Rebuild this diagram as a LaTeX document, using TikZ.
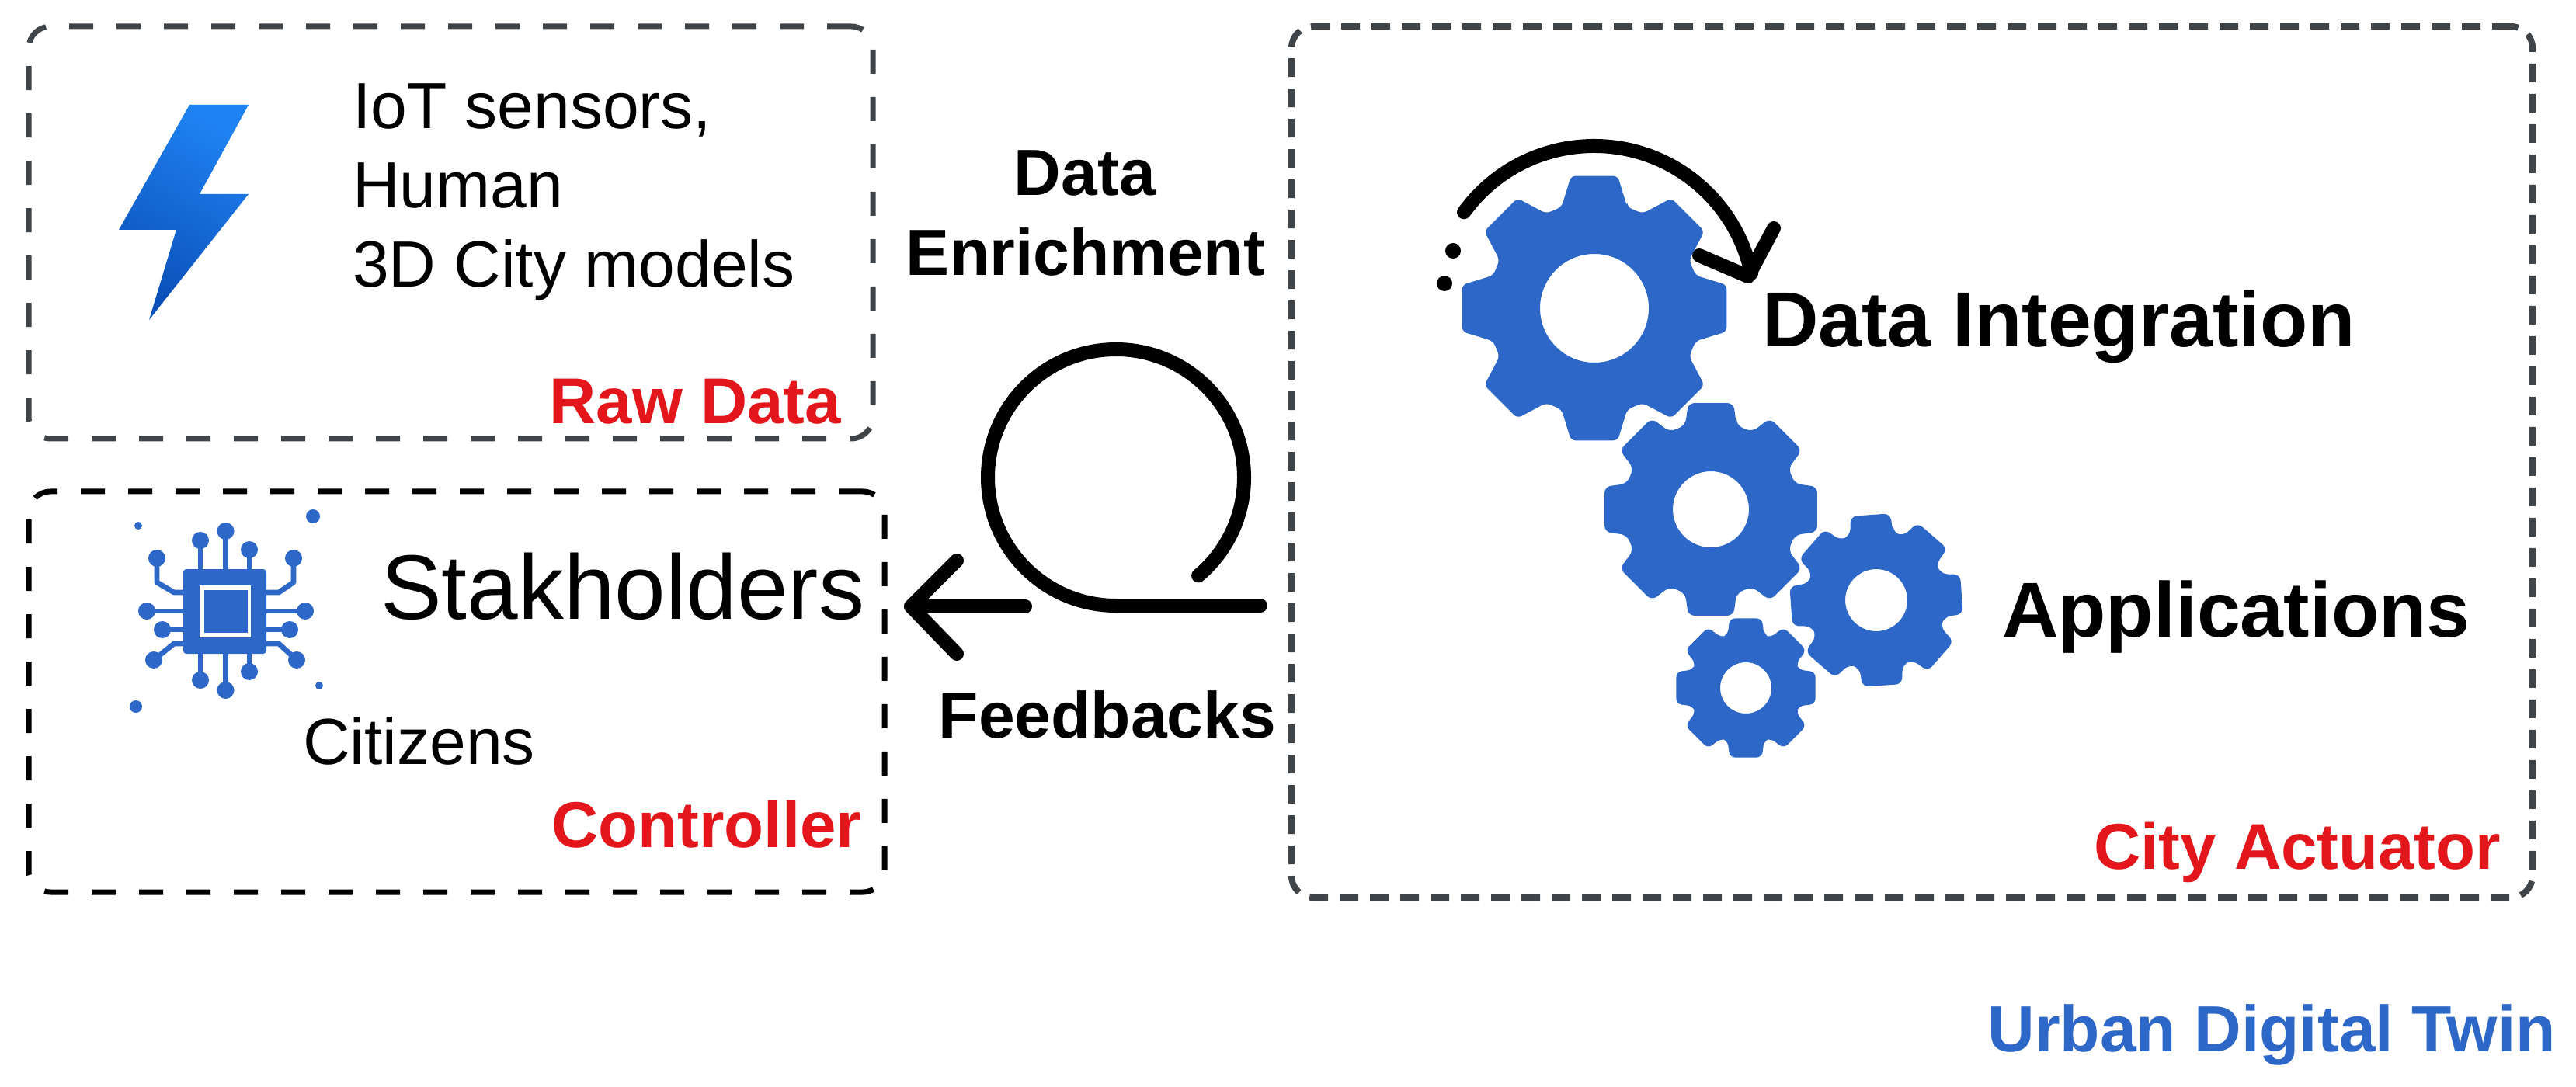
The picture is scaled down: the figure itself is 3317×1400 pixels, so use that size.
\documentclass[tikz,border=0pt]{standalone}
\usepackage{fontspec}
\setmainfont{Liberation Sans}
\definecolor{boxgrey}{HTML}{3F4449}
\definecolor{iconblue}{HTML}{2D67C8}
\definecolor{labelred}{HTML}{E3161B}
\definecolor{boltlight}{HTML}{1F82F2}
\definecolor{boltdark}{HTML}{0B4FB8}
\newcommand{\gearicon}[9]{%
  \fill[iconblue,even odd rule,rounded corners=#9pt]
    ({#1+#4*cos(#8-#7)},{#2-#4*sin(#8-#7)})
    \foreach \ga in {0,45,...,315}{
      -- ({#1+#3*cos(\ga+#8-#6)},{#2-#3*sin(\ga+#8-#6)})
      -- ({#1+#3*cos(\ga+#8+#6)},{#2-#3*sin(\ga+#8+#6)})
      -- ({#1+#4*cos(\ga+#8+#7)},{#2-#4*sin(\ga+#8+#7)})
      -- ({#1+#4*cos(\ga+45+#8-#7)},{#2-#4*sin(\ga+45+#8-#7)})
    } -- cycle
    (#1,#2) circle[radius=#5];
}
\tikzset{
  framebox/.style={draw,rectangle,rounded corners=14pt,inner sep=0pt,outer sep=0pt,fill=none},
  thinframe/.style={framebox,draw=boxgrey,line width=3.5pt,dash pattern=on 15.5pt off 15pt},
  blackframe/.style={framebox,draw=black,line width=3.5pt,dash pattern=on 15.5pt off 15pt},
  actframe/.style={framebox,draw=boxgrey,line width=4pt,dash pattern=on 12pt off 7.5pt},
  plaintext/.style={anchor=base west,inner sep=0pt,outer sep=0pt,text=black},
  boldtext/.style={anchor=base,inner sep=0pt,outer sep=0pt,text=black,font=\bfseries\fontsize{42}{50}\selectfont},
  redlabel/.style={anchor=base east,inner sep=0pt,outer sep=0pt,text=labelred,font=\bfseries\fontsize{41.7}{50}\selectfont},
  heavy/.style={draw=black,line width=9pt,line cap=round,line join=round,fill=none},
  chipwire/.style={draw=iconblue,line width=3.4pt,line join=round,fill=none},
  chipdot/.style={fill=iconblue}
}
\begin{document}
\begin{tikzpicture}[x=0.5pt,y=-0.5pt]
\useasboundingbox (0,0) rectangle (3317,1400);
% frames
\node[thinframe,minimum width=543.5pt,minimum height=265.5pt] (raw) at (580.5,299.5) {};
\node[blackframe,minimum width=551pt,minimum height=258pt] (controller) at (588,891) {};
\node[actframe,minimum width=799pt,minimum height=561pt] (actuator) at (2462,595) {};
% bolt
\shade[top color=boltlight,bottom color=boltdark,shading angle=-30]
  (244,135) -- (320,135) -- (257,250) -- (320,250) -- (192,412) -- (227,296) -- (153,296) -- cycle;
% raw text
\node[plaintext,font=\fontsize{42}{50}\selectfont] (iot) at (454,166) {IoT sensors,};
\node[plaintext,font=\fontsize{42}{50}\selectfont] (human) at (454,268) {Human};
\node[plaintext,font=\fontsize{42}{50}\selectfont] (city) at (454,370) {3D City models};
\node[redlabel] (rawlabel) at (1083,546) {Raw Data};
% chip
\foreach \ax/\ay/\bx/\by in {258/696/258/733,290.5/684/290.5/733,321/708/321/733,
  258/876/258/842,290.5/889/290.5/842,321/865/321/842,
  189/787/236/787,209/811/236/811,393/787/343/787,373/811/343/811}
  {\draw[chipwire] (\ax,\ay) -- (\bx,\by);}
\draw[chipwire] (202,719) -- (202,750) -- (224,763) -- (236,763);
\draw[chipwire] (378,719) -- (378,750) -- (359,763) -- (343,763);
\draw[chipwire] (198,850) -- (224,829) -- (236,829);
\draw[chipwire] (382,850) -- (359,829) -- (343,829);
\foreach \cx/\cy in {258/696,290.5/684,321/708,202/719,378/719,189/787,209/811,393/787,373/811,198/850,382/850,258/876,290.5/889,321/865}
  {\fill[chipdot] (\cx,\cy) circle[radius=11];}
\fill[chipdot] (178,677) circle[radius=5];
\fill[chipdot] (403,665) circle[radius=9];
\fill[chipdot] (411,883) circle[radius=5];
\fill[chipdot] (175,910) circle[radius=8];
\fill[iconblue,rounded corners=2pt] (236,733) rectangle (343,842);
\fill[white] (257,754) rectangle (323,821);
\fill[iconblue] (263,760) rectangle (319,815);
% controller text
\node[plaintext,font=\fontsize{59}{70}\selectfont] (stake) at (490,797) {Stakholders};
\node[plaintext,font=\fontsize{42}{50}\selectfont] (citizens) at (390,984) {Citizens};
\node[redlabel] (ctrllabel) at (1109,1091) {Controller};
% middle labels
\node[boldtext] (data) at (1397,252) {Data};
\node[boldtext] (enrich) at (1398,355) {Enrichment};
\node[boldtext] (feedback) at (1426,950) {Feedbacks};
% loop connector
\coordinate (loopstart) at (1623,780);
\coordinate (loopbottom) at (1437,780);
\coordinate (arrowtail) at (1320,781);
\coordinate (arrowtip) at (1173,781);
\coordinate (barbup) at (1232,722);
\coordinate (barbdown) at (1232,842);
\draw[heavy] (loopstart) -- (loopbottom) arc[start angle=90,end angle=410,radius=165];
\draw[heavy] (arrowtail) -- (arrowtip);
\draw[heavy] (barbup) -- (arrowtip) -- (barbdown);
% gears
\gearicon{2053}{397}{173}{137}{70}{10}{18}{90}{3}
\gearicon{2203}{656}{140}{113}{49}{12}{17}{90}{4}
\gearicon{2416}{773}{113}{90}{40}{13}{18}{94}{4}
\gearicon{2248}{886}{92}{72}{33}{13}{19}{90}{3.5}
% rotation arrow
\coordinate (rotstart) at ({2052.5+207*cos(216)},{395+207*sin(216)});
\coordinate (rottip) at (2251,356);
\coordinate (rotbarba) at (2188,329);
\coordinate (rotbarbb) at (2284,294);
\draw[heavy] (rotstart) arc[start angle=216,end angle=348,radius=207];
\draw[heavy] (rotbarba) -- (rottip) -- (rotbarbb);
\fill (1871,323) circle[radius=10];
\fill (1860,365) circle[radius=10];
% actuator text
\node[plaintext,font=\bfseries\fontsize{50.2}{60}\selectfont] (integration) at (2269,447) {Data Integration};
\node[plaintext,font=\bfseries\fontsize{50.2}{60}\selectfont] (apps) at (2578,820) {Applications};
\node[redlabel] (actlabel) at (3220,1119) {City Actuator};
\node[anchor=base east,inner sep=0pt,text=iconblue,font=\bfseries\fontsize{42}{50}\selectfont] (twin) at (3291,1354) {Urban Digital Twin};
\end{tikzpicture}
\end{document}
